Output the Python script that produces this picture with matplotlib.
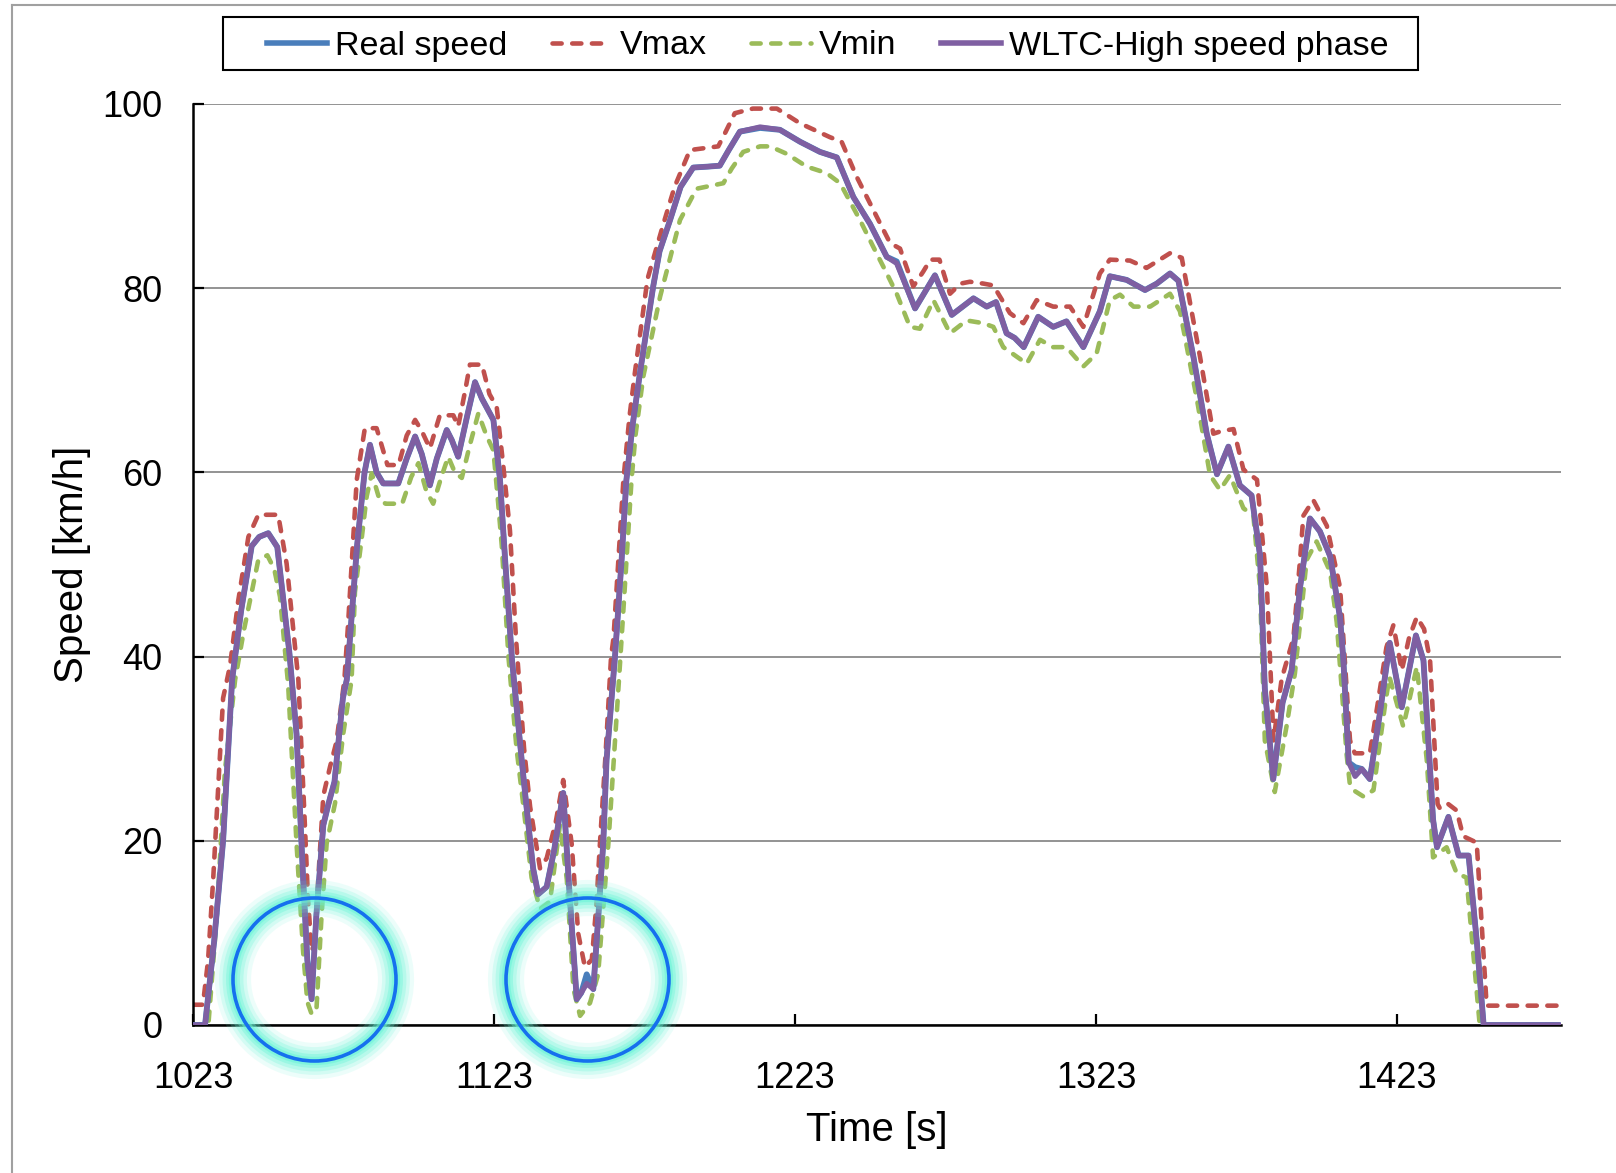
import matplotlib
matplotlib.use("Agg")
import matplotlib.pyplot as plt
from matplotlib.lines import Line2D
from matplotlib.patches import Rectangle

plt.rcParams['font.family'] = ['Liberation Sans', 'DejaVu Sans']

# ---------------- data ----------------
wltc_t = [1023, 1027, 1030, 1033, 1036, 1039, 1042.5, 1045, 1048, 1051, 1055, 1057.4,
          1059.6, 1061, 1062.4, 1064, 1066.3, 1068, 1070, 1072.8, 1074.1, 1077.5, 1080,
          1081.8, 1084, 1086.2, 1091.2, 1094, 1096.8, 1099, 1101.7, 1104, 1107.3, 1109,
          1111.1, 1114, 1116.7, 1119, 1122.8, 1125, 1126.7, 1129, 1132.2, 1133.8, 1136,
          1137.7, 1140.5, 1143, 1146, 1148.2, 1150.5, 1152, 1153.8, 1156, 1157.5, 1159.3,
          1160.4, 1163.2, 1165.4, 1167, 1169, 1171.5, 1175.9, 1178, 1181.5, 1185, 1189.2,
          1194, 1198, 1201, 1204.7, 1211.4, 1218, 1224.7, 1231.3, 1236.9, 1242.4, 1247.9,
          1253.5, 1256.8, 1262.9, 1269.5, 1275.1, 1282.3, 1286.7, 1289.8, 1293.3, 1296,
          1299, 1303.8, 1308.8, 1313.2, 1318.8, 1324.3, 1327.6, 1333.2, 1339.3, 1343.2,
          1347.6, 1350.4, 1355.4, 1359.8, 1363.2, 1367, 1370.8, 1374.7, 1377.5, 1379.1,
          1381.9, 1385, 1388, 1390.8, 1394.1, 1397.4, 1400.8, 1404.1, 1405.2, 1407, 1409.1,
          1411.3, 1414, 1417.4, 1420.6, 1424.6, 1429.3, 1431.8, 1435, 1436.3, 1440.1,
          1443.5, 1446.8, 1449.6, 1451.8, 1477]
wltc_v = [0, 0, 9, 20, 37.5, 45, 52, 53, 53.4, 51.9, 40.5, 31.6,
          15.8, 7, 2.8, 12, 21.7, 24, 26.4, 35.5, 37.5, 52, 60,
          63, 60, 58.8, 58.8, 61.5, 63.9, 62, 58.6, 61.5, 64.6, 63.5,
          61.7, 66, 69.8, 68, 65.7, 59.2, 50.5, 39.6, 28.8, 23.7, 17,
          14.2, 15, 19, 25.2, 13.8, 2.8, 3.5, 4.5, 3.9, 11, 19.7,
          28.8, 40, 50.5, 59.2, 65, 70.8, 80.2, 84, 87.4, 91, 93.1,
          93.2, 93.3, 95, 97, 97.5, 97.2, 95.9, 94.8, 94.2, 89.9, 87,
          83.4, 82.7, 77.8, 81.4, 77.1, 78.9, 78, 78.5, 75.1, 74.6,
          73.6, 76.9, 75.8, 76.4, 73.6, 77.5, 81.3, 80.9, 79.8, 80.5,
          81.6, 80.8, 72.5, 64.2, 59.8, 62.8, 58.6, 57.5, 51, 36.5,
          26.7, 35, 38.5, 47.5, 55, 53.6, 50.9, 44.2, 39.6, 28.5, 27,
          27.8, 26.7, 34, 41.5, 34.5, 42.3, 39.6, 22.3, 19.3, 22.6,
          18.4, 18.4, 8.8, 0, 0]

real_t = wltc_t
real_v = [0, 0, 9, 20, 37.5, 45, 52, 53, 53.4, 51.9, 40.5, 31.6,
          15.8, 7, 2.8, 12, 21.7, 24, 26.4, 35.5, 37.5, 52, 60,
          63, 60, 58.8, 58.8, 61.5, 63.9, 62, 58.6, 61.5, 64.6, 63.5,
          61.7, 66, 69.8, 68, 65.7, 59.2, 50.5, 39.6, 28.8, 23.7, 17,
          14.2, 15, 19, 25.2, 13.8, 2.8, 3.5, 5.5, 3.9, 11, 19.7,
          28.8, 40, 50.5, 59.2, 65, 70.8, 80.2, 84, 87.4, 91, 93.1,
          93.2, 93.3, 95, 97, 97.4, 97.2, 95.9, 94.8, 94.2, 89.9, 87,
          83.4, 82.9, 77.8, 81.4, 77.1, 78.9, 78, 78.5, 75.1, 74.6,
          73.6, 76.9, 75.8, 76.4, 73.6, 77.5, 81.3, 80.9, 79.8, 80.5,
          81.6, 80.8, 72.5, 64.2, 59.8, 62.8, 58.6, 57.5, 51, 36.5,
          26.7, 35, 38.5, 47.5, 55, 53.6, 50.9, 44.2, 39.6, 28.5, 28,
          27.8, 26.7, 34, 41.5, 34.5, 42.3, 39.6, 22.3, 19.3, 22.6,
          18.4, 18.4, 8.8, 0, 0]

vmax_t = [1023, 1026.3, 1028, 1029.7, 1033, 1035.3, 1038, 1041.4, 1044.7, 1051.3, 1054.1,
          1058, 1060, 1061.2, 1062.4, 1063.5, 1064.6, 1066.3, 1068.5, 1070.7, 1073.3,
          1074.5, 1077.4, 1080.1, 1084, 1087.6, 1091.3, 1094, 1096.8, 1099, 1101.7, 1105,
          1109.5, 1111.1, 1113.5, 1115, 1119, 1121.5, 1123.9, 1126, 1128.3, 1130.3, 1133,
          1135, 1138.3, 1140.5, 1143.5, 1146, 1148.8, 1151, 1153.2, 1155.5, 1157, 1158.2,
          1160, 1161.9, 1162.7, 1164.6, 1166, 1168, 1169.8, 1174, 1179.3, 1183, 1188.1,
          1197.5, 1200, 1203, 1209, 1217, 1224.7, 1234.6, 1238.5, 1243.5, 1250.1, 1254.6,
          1257.9, 1262.3, 1265.6, 1268, 1271, 1274.5, 1278, 1281.1, 1285.6, 1288.9, 1294.4,
          1298.9, 1303.3, 1308.8, 1314.4, 1318.8, 1324.3, 1327.6, 1334.3, 1339.8, 1347.6,
          1351.5, 1357.6, 1362, 1364.8, 1368.7, 1372, 1376.5, 1379.8, 1382, 1384.7, 1388.6,
          1390.8, 1391.9, 1395.2, 1399.7, 1404.1, 1407.4, 1409, 1414, 1416.8, 1419.5,
          1421.8, 1424.6, 1427, 1429.6, 1432, 1434, 1436.5, 1437.3, 1440, 1442.8, 1445,
          1449.5, 1452.8, 1477]
vmax_v = [2.2, 2.2, 7, 15.8, 35.5, 39, 46, 53, 55.4, 55.4, 50.1,
          37.5, 23, 13.8, 8, 9, 15.8, 24.9, 28, 30.8, 37.5,
          43.4, 59.2, 64.8, 64.8, 60.8, 60.8, 64, 65.7, 64.5, 62.6, 66.2,
          66.2, 65, 69, 71.7, 71.7, 68.5, 67.1, 61, 53.7, 42, 30,
          23.7, 17, 18.1, 22, 26.6, 19.7, 9.9, 6.3, 7.1, 13, 19.7,
          29, 40, 42, 52, 59.2, 66, 70.8, 81, 87, 91, 95,
          95.4, 97, 99, 99.5, 99.5, 97.9, 96.4, 95.9, 92.1, 87.8, 84.9,
          84.3, 80.2, 81.8, 83.1, 83.1, 79.4, 80.5, 80.7, 80.5, 80.3, 77.3,
          76.2, 78.7, 78, 78, 75.8, 81.6, 83.1, 83, 82.2, 83.8,
          83.3, 72.5, 64.2, 64.5, 64.7, 60.3, 59.2, 47.5, 30.9, 37.6, 42,
          50.5, 55.3, 57, 54.2, 47.5, 30.9, 29.5, 29.5, 35.3, 41,
          43.4, 38.5, 42, 44.3, 43, 39.6, 24, 23.5, 24, 23.3, 20.5,
          19.8, 2.1, 2.1]

vmin_t = [1023, 1028.1, 1030.9, 1033.6, 1037, 1040, 1044.7, 1047.7, 1050, 1051.9, 1054.6,
          1057.4, 1059.6, 1061, 1062.4, 1064, 1065.7, 1067.4, 1070.2, 1072.9, 1075.7,
          1076.8, 1079, 1080.7, 1082.4, 1085, 1087, 1092.5, 1095.5, 1097.9, 1100.5, 1102.8,
          1105.5, 1107.8, 1110, 1112.3, 1115, 1117.8, 1120.5, 1122.8, 1124.3, 1125.6,
          1127.8, 1130.5, 1132.8, 1135.5, 1138.3, 1141.6, 1144.9, 1147.2, 1149.4, 1151.6,
          1154.9, 1157.6, 1161, 1164.9, 1168.7, 1170, 1172.6, 1178.2, 1184.8, 1190.3,
          1199.2, 1202, 1205.8, 1211.4, 1214.7, 1220.2, 1226.9, 1233.5, 1238, 1244.6, 1249,
          1253.5, 1256.8, 1261.2, 1264.5, 1269, 1274.5, 1280, 1285.6, 1288.9, 1292.2, 1300,
          1304.4, 1308.8, 1313.2, 1318.8, 1323.2, 1327.6, 1331, 1335.5, 1341, 1347.6,
          1350.9, 1356.5, 1360.9, 1364.2, 1367.5, 1372, 1375.3, 1377.5, 1379.1, 1382.4,
          1386.3, 1389.1, 1393, 1396.3, 1400.8, 1403, 1406.3, 1407.4, 1409, 1411.9, 1415.2,
          1419.1, 1420.5, 1425.1, 1429.6, 1432.9, 1435, 1439.5, 1442.8, 1446.1, 1450.5, 1477]
vmin_v = [0, 0, 11.8, 27.6, 37.5, 43, 50.5, 51, 49.5, 46.5, 37,
          19.7, 7.9, 2.5, 1.2, 1.6, 11.8, 19.7, 24.1, 31.6, 37.5,
          47, 52.7, 57.4, 59.9, 57, 56.6, 56.6, 59.5, 61, 58, 56.6,
          59.5, 61.7, 60, 59.4, 63, 66.4, 64, 62.4, 57, 52,
          40, 30, 23.7, 16, 12.6, 13.4, 21.7, 15.8, 3.9, 1,
          2.4, 5.5, 19.7, 39.4, 59.2, 64, 70.4, 79.1, 87.4, 90.8,
          91.4, 93, 94.8, 95.4, 95.4, 94.6, 93.2, 92.5, 91.4, 87.4, 84.5,
          81.6, 79.4, 75.8, 75.6, 78.7, 75.1, 76.5, 76.2, 75.8, 73.6, 71.8,
          74.4, 73.6, 73.6, 71.5, 72.9, 78.7, 79.3, 78, 78, 79.4,
          77.5, 68, 59.7, 58.1, 59.7, 56.1, 55.3, 47.5, 30.9, 25.3,
          32.4, 38.2, 50.5, 52.5, 49.2, 43.7, 29.3, 26, 25.4, 24.8, 25.5,
          34.9, 37.8, 32.4, 38.9, 28.8, 18.2, 19.3, 16.5, 16, 0, 0]

# highlighted stops (circle annotations)
highlight_t = [1063.3, 1154]
highlight_v = [5.0, 5.0]

xticks = [1023, 1123, 1223, 1323, 1423]
yticks = [0, 20, 40, 60, 80, 100]

# ---------------- figure ----------------
W, H, DPI = 1616, 1173, 100
fig = plt.figure(figsize=(W / DPI, H / DPI), dpi=DPI)
ax = fig.add_axes([193 / W, 1 - 1025 / H, (1561 - 193) / W, (1025 - 104) / H])

c_real = '#4A7EBB'
c_max = '#C0504D'
c_min = '#9BBB59'
c_wltc = '#7F5FA2'
dash = (0, (2.0, 2.3))

ax.plot(real_t, real_v, color=c_real, lw=4.2, label='Real speed', zorder=3,
        solid_capstyle='round', solid_joinstyle='round')
ax.plot(vmax_t, vmax_v, color=c_max, lw=3.3, ls=dash, label='Vmax', zorder=2,
        dash_capstyle='round', dash_joinstyle='round')
ax.plot(vmin_t, vmin_v, color=c_min, lw=3.3, ls=dash, label='Vmin', zorder=2,
        dash_capstyle='round', dash_joinstyle='round')
ax.plot(wltc_t, wltc_v, color=c_wltc, lw=3.8, label='WLTC-High speed phase', zorder=4,
        solid_capstyle='round', solid_joinstyle='round')

# glowing circles
ms = 163 * 72 / DPI
for w, a in [(26, 0.12), (20, 0.18), (15, 0.25), (10, 0.35), (6, 0.5)]:
    ax.plot(highlight_t, highlight_v, ls='none', marker='o', ms=ms, mfc='none',
            mec='#66F5D6', mew=w, alpha=a, clip_on=False, zorder=5)
ax.plot(highlight_t, highlight_v, ls='none', marker='o', ms=ms, mfc='none',
        mec='#1570EE', mew=2.6, clip_on=False, zorder=6)

ax.set_xlim(1023, 1477.5)
ax.set_ylim(0, 100)
ax.set_xticks(xticks)
ax.set_yticks(yticks)
ax.yaxis.grid(True, color='#8A8A8A', lw=1.3)
ax.set_axisbelow(True)
for s in ['top', 'right']:
    ax.spines[s].set_visible(False)
for s in ['left', 'bottom']:
    ax.spines[s].set_linewidth(1.8)
    ax.spines[s].set_color('black')
ax.tick_params(axis='both', direction='in', length=8, width=1.6, labelsize=26)
ax.tick_params(axis='y', pad=22)
ax.tick_params(axis='x', pad=26)
ax.set_xlabel('Time [s]', fontsize=29, labelpad=11)
ax.set_ylabel('Speed [km/h]', fontsize=29, labelpad=8)

handles = [Line2D([], [], color=c_real, lw=4.0),
           Line2D([], [], color=c_max, lw=3.3, ls=dash, dash_capstyle='round'),
           Line2D([], [], color=c_min, lw=3.3, ls=dash, dash_capstyle='round'),
           Line2D([], [], color=c_wltc, lw=4.0)]
labels = ['Real speed', 'Vmax', 'Vmin', 'WLTC-High speed phase']
leg = fig.legend(handles, labels, loc='center', bbox_to_anchor=(828 / W, 1 - 46 / H),
                 ncol=4, fontsize=24.5, frameon=False,
                 handlelength=1.75, handletextpad=0.25, columnspacing=1.3,
                 borderpad=0.0, borderaxespad=0)
# legend frame
fig.add_artist(Rectangle((223 / W, 1 - 70 / H), (1418 - 223) / W, (70 - 17.5) / H,
                         transform=fig.transFigure, fill=False, edgecolor='black', lw=1.5))

# outer chart-area border (top and left)
fig.add_artist(Line2D([12 / W, 12 / W], [0, 1 - 5 / H], transform=fig.transFigure,
                      color='#A0A0A0', lw=1.5))
fig.add_artist(Line2D([12 / W, 1], [1 - 5 / H, 1 - 5 / H], transform=fig.transFigure,
                      color='#A0A0A0', lw=1.5))

fig.savefig('out.png', dpi=DPI)
